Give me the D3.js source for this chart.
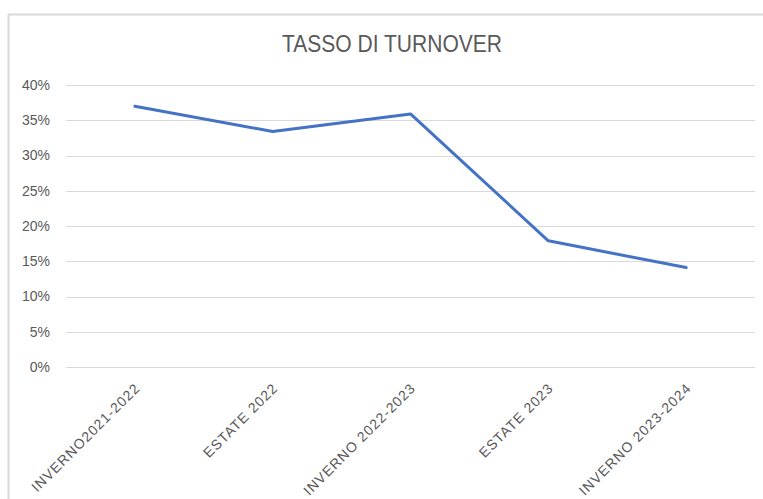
<!DOCTYPE html>
<html lang="en">
<head>
  <meta charset="UTF-8" />
  <title>Tasso di turnover</title>
  <style>
    body { margin: 0; background: #fff; overflow: hidden; }
    svg { position: absolute; top: 0; left: 0; }
    .grid line { stroke: #d9d9d9; stroke-width: 1px; }
    .tick-label { fill: #595959; font-family: "Liberation Sans", Arial, sans-serif; }
    .title { fill: #595959; font-family: "Liberation Sans", Arial, sans-serif; }
  </style>
</head>
<body>

<svg id="chart"></svg>

<script src="https://d3js.org/d3.v7.min.js"></script>
<script>
  const categories = ["INVERNO2021-2022", "ESTATE 2022", "INVERNO 2022-2023", "ESTATE 2023", "INVERNO 2023-2024"];
  const turnover = [0.370, 0.334, 0.359, 0.179, 0.141];
  const yTicks = [0, 0.05, 0.10, 0.15, 0.20, 0.25, 0.30, 0.35, 0.40];

  const width = 763, height = 499;
  const margin = { left: 66, right: 8, top: 85, bottom: 132 };

  const svg = d3.select("#chart").attr("width", width).attr("height", height);

  // chart frame (runs off the right and bottom edge)
  svg.append("rect")
    .attr("x", 8.5).attr("y", 14.5)
    .attr("width", width + 20).attr("height", height + 20)
    .attr("fill", "#fff")
    .attr("stroke", "#d9d9d9")
    .attr("stroke-width", 2);

  svg.append("text")
    .attr("class", "title")
    .attr("x", 392).attr("y", 52)
    .attr("text-anchor", "middle")
    .attr("font-size", 23)
    .attr("textLength", 220)
    .attr("lengthAdjust", "spacingAndGlyphs")
    .text("TASSO DI TURNOVER");

  const x = d3.scaleBand()
    .domain(categories)
    .range([margin.left, width - margin.right]);

  const y = d3.scaleLinear()
    .domain([0, 0.4])
    .range([height - margin.bottom, margin.top]);

  const grid = svg.append("g").attr("class", "grid");
  grid.selectAll("line")
    .data(yTicks)
    .enter()
    .append("line")
    .attr("x1", margin.left)
    .attr("x2", width - margin.right)
    .attr("y1", d => Math.round(y(d)) + 0.5)
    .attr("y2", d => Math.round(y(d)) + 0.5);

  svg.append("g").selectAll("text")
    .data(yTicks)
    .enter()
    .append("text")
    .attr("class", "tick-label")
    .attr("x", 50)
    .attr("y", d => y(d))
    .attr("dy", "0.35em")
    .attr("text-anchor", "end")
    .attr("font-size", 14)
    .text(d => d3.format(".0%")(d));

  svg.append("g").selectAll("text")
    .data(categories)
    .enter()
    .append("text")
    .attr("class", "tick-label")
    .attr("font-size", 14)
    .attr("letter-spacing", 1.0)
    .attr("text-anchor", "end")
    .attr("transform", d => `translate(${x(d) + x.bandwidth() / 2 + 6},${y(0) + 22}) rotate(-45)`)
    .text(d => d);

  const line = d3.line()
    .x((d, i) => x(categories[i]) + x.bandwidth() / 2)
    .y(d => y(d));

  svg.append("path")
    .datum(turnover)
    .attr("fill", "none")
    .attr("stroke", "#4472c4")
    .attr("stroke-width", 3)
    .attr("stroke-linejoin", "round")
    .attr("stroke-linecap", "round")
    .attr("d", line);
</script>

</body>
</html>
